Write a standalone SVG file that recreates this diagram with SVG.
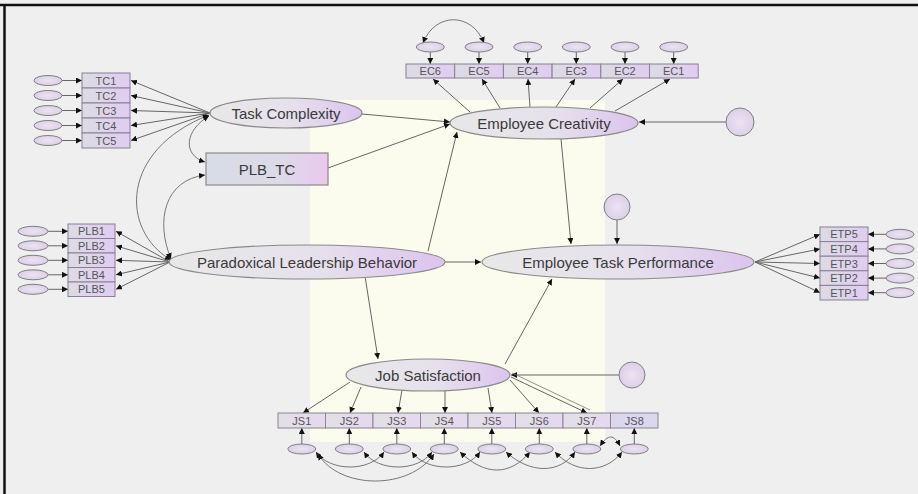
<svg xmlns="http://www.w3.org/2000/svg" width="918" height="494" viewBox="0 0 918 494">
<defs>
<linearGradient id="lat" x1="0" y1="0" x2="1" y2="0">
<stop offset="0" stop-color="#e8e8e8"/><stop offset="0.55" stop-color="#e6e0ec"/><stop offset="1" stop-color="#dcc4ee"/>
</linearGradient>
<linearGradient id="obs" x1="0" y1="0" x2="1" y2="0">
<stop offset="0" stop-color="#dcdce4"/><stop offset="1" stop-color="#e0ccf0"/>
</linearGradient>
<linearGradient id="jsf" x1="0" y1="0" x2="1" y2="0">
<stop offset="0" stop-color="#e2e0e6"/><stop offset="1" stop-color="#e6d8ee"/>
</linearGradient>
<linearGradient id="plbtc" x1="0" y1="0" x2="1" y2="0">
<stop offset="0" stop-color="#d8dce6"/><stop offset="0.6" stop-color="#dcdae8"/><stop offset="1" stop-color="#ecc8ec"/>
</linearGradient>
<radialGradient id="err" cx="0.5" cy="0.5" r="0.6">
<stop offset="0" stop-color="#ebe4f2"/><stop offset="1" stop-color="#dacbe8"/>
</radialGradient>
<marker id="ah" viewBox="0 0 10 10" refX="10" refY="5" markerWidth="6" markerHeight="6" markerUnits="userSpaceOnUse" orient="auto-start-reverse">
<path d="M0,0 L10,5 L0,10 z" fill="#111"/>
</marker>
</defs>
<style>
.lat{fill:url(#lat);stroke:#8a8a8a;stroke-width:1.2}
.obs{fill:url(#obs);stroke:#8a7f96;stroke-width:1}
.js{fill:url(#jsf);stroke:#8a8590;stroke-width:1}
.e{fill:url(#err);stroke:#808080;stroke-width:1}
.c{stroke:#666;stroke-width:1;fill:none;marker-end:url(#ah)}
.cv{stroke:#777;stroke-width:1;fill:none;marker-end:url(#ah);marker-start:url(#ah)}
.big{font-family:"Liberation Sans",Arial,sans-serif;font-size:15px;fill:#3a3a3a;text-anchor:middle;dominant-baseline:central}
.sm{font-family:"Liberation Sans",Arial,sans-serif;font-size:11px;fill:#555;text-anchor:middle;dominant-baseline:central}
</style>
<rect x="0" y="0" width="918" height="494" fill="#efefef"/>
<rect x="310" y="100" width="295" height="342" fill="#fbfbee"/>
<line x1="0" y1="5" x2="918" y2="5" stroke="#111" stroke-width="2.5"/>
<line x1="4.5" y1="5" x2="4.5" y2="494" stroke="#111" stroke-width="2.5"/>

<g id="connectors">
<line class="c" x1="62" y1="80.5" x2="82" y2="80.5"/>
<line class="c" x1="62" y1="95.5" x2="82" y2="95.5"/>
<line class="c" x1="62" y1="110.5" x2="82" y2="110.5"/>
<line class="c" x1="62" y1="125.5" x2="82" y2="125.5"/>
<line class="c" x1="62" y1="140.5" x2="82" y2="140.5"/>
<line class="c" x1="210" y1="113" x2="131" y2="80.5"/>
<line class="c" x1="210" y1="113" x2="131" y2="95.5"/>
<line class="c" x1="210" y1="113" x2="131" y2="110.5"/>
<line class="c" x1="210" y1="113" x2="131" y2="125.5"/>
<line class="c" x1="210" y1="113" x2="131" y2="140.5"/>
<line class="c" x1="48" y1="231.3" x2="68" y2="231.3"/>
<line class="c" x1="48" y1="245.8" x2="68" y2="245.8"/>
<line class="c" x1="48" y1="260.3" x2="68" y2="260.3"/>
<line class="c" x1="48" y1="274.8" x2="68" y2="274.8"/>
<line class="c" x1="48" y1="289.3" x2="68" y2="289.3"/>
<line class="c" x1="170" y1="262" x2="116" y2="231.3"/>
<line class="c" x1="170" y1="262" x2="116" y2="245.8"/>
<line class="c" x1="170" y1="262" x2="116" y2="260.3"/>
<line class="c" x1="170" y1="262" x2="116" y2="274.8"/>
<line class="c" x1="170" y1="262" x2="116" y2="289.3"/>
<path class="cv" d="M209,115 C120,150 120,230 171,260"/>
<path class="cv" d="M209,116 C185,130 182,155 205,162"/>
<path class="cv" d="M171,259 C155,220 165,180 205,175"/>
<line class="c" x1="430.3" y1="52" x2="430.3" y2="64"/>
<line class="c" x1="479" y1="52" x2="479" y2="64"/>
<line class="c" x1="527.7" y1="52" x2="527.7" y2="64"/>
<line class="c" x1="576.3" y1="52" x2="576.3" y2="64"/>
<line class="c" x1="625" y1="52" x2="625" y2="64"/>
<line class="c" x1="673.7" y1="52" x2="673.7" y2="64"/>
<path class="cv" d="M423,43 C435,12 472,12 484,43"/>
<line class="c" x1="470" y1="112" x2="433" y2="79"/>
<line class="c" x1="500" y1="108" x2="482" y2="79"/>
<line class="c" x1="530" y1="107" x2="528" y2="79"/>
<line class="c" x1="556" y1="107" x2="575" y2="79"/>
<line class="c" x1="590" y1="108" x2="623" y2="79"/>
<line class="c" x1="615" y1="111" x2="670" y2="79"/>
<line class="c" x1="886" y1="234.3" x2="868" y2="234.3"/>
<line class="c" x1="886" y1="248.9" x2="868" y2="248.9"/>
<line class="c" x1="886" y1="263.5" x2="868" y2="263.5"/>
<line class="c" x1="886" y1="278.1" x2="868" y2="278.1"/>
<line class="c" x1="886" y1="292.7" x2="868" y2="292.7"/>
<line class="c" x1="755" y1="262" x2="820" y2="234.3"/>
<line class="c" x1="755" y1="262" x2="820" y2="248.9"/>
<line class="c" x1="755" y1="262" x2="820" y2="263.5"/>
<line class="c" x1="755" y1="262" x2="820" y2="278.1"/>
<line class="c" x1="755" y1="262" x2="820" y2="292.7"/>
<line class="c" x1="362" y1="114" x2="450" y2="122"/>
<line class="c" x1="328" y1="168" x2="450" y2="124"/>
<line class="c" x1="428" y1="251" x2="457" y2="132"/>
<line class="c" x1="561" y1="139" x2="571" y2="244"/>
<line class="c" x1="726" y1="122" x2="639" y2="122"/>
<line class="c" x1="617" y1="220" x2="617" y2="244"/>
<line class="c" x1="445" y1="262" x2="481" y2="262"/>
<line class="c" x1="365" y1="276" x2="378" y2="359"/>
<line class="c" x1="505" y1="364" x2="552" y2="279"/>
<line class="c" x1="619" y1="375" x2="511" y2="375"/>
<line class="c" x1="350" y1="382" x2="303" y2="413"/>
<line class="c" x1="361" y1="387" x2="350" y2="413"/>
<line class="c" x1="402" y1="390" x2="398" y2="413"/>
<line class="c" x1="445" y1="390" x2="445" y2="413"/>
<line class="c" x1="488" y1="388" x2="492" y2="413"/>
<line class="c" x1="510" y1="380" x2="539" y2="413"/>
<line class="c" x1="511" y1="377" x2="587" y2="413" stroke-width="2"/>
<line x1="512" y1="373" x2="590" y2="410" stroke="#777" stroke-width="0.8"/>
<line class="c" x1="301.8" y1="444" x2="301.8" y2="428"/>
<line class="c" x1="349.3" y1="444" x2="349.3" y2="428"/>
<line class="c" x1="396.8" y1="444" x2="396.8" y2="428"/>
<line class="c" x1="444.3" y1="444" x2="444.3" y2="428"/>
<line class="c" x1="491.8" y1="444" x2="491.8" y2="428"/>
<line class="c" x1="539.3" y1="444" x2="539.3" y2="428"/>
<line class="c" x1="586.8" y1="444" x2="586.8" y2="428"/>
<line class="c" x1="634.3" y1="444" x2="634.3" y2="428"/>
<path class="cv" d="M316,452 C330,472 370,472 384,452"/>
<path class="cv" d="M364,452 C378,472 418,472 432,452"/>
<path class="cv" d="M412,452 C426,472 466,472 480,452"/>
<path class="cv" d="M318,454 C340,490 410,490 434,454"/>
<path class="cv" d="M460,452 C485,476 510,476 530,452"/>
<path class="cv" d="M506,452 C530,474 560,474 575,452"/>
<path class="cv" d="M555,452 C575,474 605,474 622,452"/>
<path class="cv" d="M600,446 C608,434 614,434 620,446"/>
</g>

<g id="TC1"><ellipse class="e" cx="48" cy="80.5" rx="14" ry="5"/><rect class="obs" x="82" y="73" width="48" height="15"/><text class="sm" x="106" y="80.5">TC1</text></g>
<g id="TC2"><ellipse class="e" cx="48" cy="95.5" rx="14" ry="5"/><rect class="obs" x="82" y="88" width="48" height="15"/><text class="sm" x="106" y="95.5">TC2</text></g>
<g id="TC3"><ellipse class="e" cx="48" cy="110.5" rx="14" ry="5"/><rect class="obs" x="82" y="103" width="48" height="15"/><text class="sm" x="106" y="110.5">TC3</text></g>
<g id="TC4"><ellipse class="e" cx="48" cy="125.5" rx="14" ry="5"/><rect class="obs" x="82" y="118" width="48" height="15"/><text class="sm" x="106" y="125.5">TC4</text></g>
<g id="TC5"><ellipse class="e" cx="48" cy="140.5" rx="14" ry="5"/><rect class="obs" x="82" y="133" width="48" height="15"/><text class="sm" x="106" y="140.5">TC5</text></g>

<g id="PLB1"><ellipse class="e" cx="33" cy="231.3" rx="15" ry="5"/><rect class="obs" x="68" y="224" width="47" height="14.5"/><text class="sm" x="91.5" y="231.3">PLB1</text></g>
<g id="PLB2"><ellipse class="e" cx="33" cy="245.8" rx="15" ry="5"/><rect class="obs" x="68" y="238.5" width="47" height="14.5"/><text class="sm" x="91.5" y="245.8">PLB2</text></g>
<g id="PLB3"><ellipse class="e" cx="33" cy="260.3" rx="15" ry="5"/><rect class="obs" x="68" y="253" width="47" height="14.5"/><text class="sm" x="91.5" y="260.3">PLB3</text></g>
<g id="PLB4"><ellipse class="e" cx="33" cy="274.8" rx="15" ry="5"/><rect class="obs" x="68" y="267.5" width="47" height="14.5"/><text class="sm" x="91.5" y="274.8">PLB4</text></g>
<g id="PLB5"><ellipse class="e" cx="33" cy="289.3" rx="15" ry="5"/><rect class="obs" x="68" y="282" width="47" height="14.5"/><text class="sm" x="91.5" y="289.3">PLB5</text></g>

<g id="EC6"><ellipse class="e" cx="430.3" cy="47" rx="14" ry="5"/><rect class="obs" x="406" y="64" width="48.7" height="14"/><text class="sm" x="430.3" y="71">EC6</text></g>
<g id="EC5"><ellipse class="e" cx="479" cy="47" rx="14" ry="5"/><rect class="obs" x="454.7" y="64" width="48.7" height="14"/><text class="sm" x="479" y="71">EC5</text></g>
<g id="EC4"><ellipse class="e" cx="527.7" cy="47" rx="14" ry="5"/><rect class="obs" x="503.4" y="64" width="48.7" height="14"/><text class="sm" x="527.7" y="71">EC4</text></g>
<g id="EC3"><ellipse class="e" cx="576.3" cy="47" rx="14" ry="5"/><rect class="obs" x="552.1" y="64" width="48.7" height="14"/><text class="sm" x="576.3" y="71">EC3</text></g>
<g id="EC2"><ellipse class="e" cx="625" cy="47" rx="14" ry="5"/><rect class="obs" x="600.8" y="64" width="48.7" height="14"/><text class="sm" x="625" y="71">EC2</text></g>
<g id="EC1"><ellipse class="e" cx="673.7" cy="47" rx="14" ry="5"/><rect class="obs" x="649.5" y="64" width="48.7" height="14"/><text class="sm" x="673.7" y="71">EC1</text></g>

<g id="ETP5"><rect class="obs" x="820" y="227" width="48" height="14.6"/><text class="sm" x="844" y="234.3">ETP5</text><ellipse class="e" cx="900" cy="234.3" rx="14" ry="5"/></g>
<g id="ETP4"><rect class="obs" x="820" y="241.6" width="48" height="14.6"/><text class="sm" x="844" y="248.9">ETP4</text><ellipse class="e" cx="900" cy="248.9" rx="14" ry="5"/></g>
<g id="ETP3"><rect class="obs" x="820" y="256.2" width="48" height="14.6"/><text class="sm" x="844" y="263.5">ETP3</text><ellipse class="e" cx="900" cy="263.5" rx="14" ry="5"/></g>
<g id="ETP2"><rect class="obs" x="820" y="270.8" width="48" height="14.6"/><text class="sm" x="844" y="278.1">ETP2</text><ellipse class="e" cx="900" cy="278.1" rx="14" ry="5"/></g>
<g id="ETP1"><rect class="obs" x="820" y="285.4" width="48" height="14.6"/><text class="sm" x="844" y="292.7">ETP1</text><ellipse class="e" cx="900" cy="292.7" rx="14" ry="5"/></g>

<g id="JS1"><rect class="js" x="278" y="413" width="47.5" height="15"/><text class="sm" x="301.8" y="420.5">JS1</text><ellipse class="e" cx="301.8" cy="449" rx="14" ry="5"/></g>
<g id="JS2"><rect class="js" x="325.5" y="413" width="47.5" height="15"/><text class="sm" x="349.3" y="420.5">JS2</text><ellipse class="e" cx="349.3" cy="449" rx="14" ry="5"/></g>
<g id="JS3"><rect class="js" x="373" y="413" width="47.5" height="15"/><text class="sm" x="396.8" y="420.5">JS3</text><ellipse class="e" cx="396.8" cy="449" rx="14" ry="5"/></g>
<g id="JS4"><rect class="js" x="420.5" y="413" width="47.5" height="15"/><text class="sm" x="444.3" y="420.5">JS4</text><ellipse class="e" cx="444.3" cy="449" rx="14" ry="5"/></g>
<g id="JS5"><rect class="js" x="468" y="413" width="47.5" height="15"/><text class="sm" x="491.8" y="420.5">JS5</text><ellipse class="e" cx="491.8" cy="449" rx="14" ry="5"/></g>
<g id="JS6"><rect class="js" x="515.5" y="413" width="47.5" height="15"/><text class="sm" x="539.3" y="420.5">JS6</text><ellipse class="e" cx="539.3" cy="449" rx="14" ry="5"/></g>
<g id="JS7"><rect class="js" x="563" y="413" width="47.5" height="15"/><text class="sm" x="586.8" y="420.5">JS7</text><ellipse class="e" cx="586.8" cy="449" rx="14" ry="5"/></g>
<g id="JS8"><rect class="js" x="610.5" y="413" width="47.5" height="15" style="fill:#dcd6ee"/><text class="sm" x="634.3" y="420.5">JS8</text><ellipse class="e" cx="634.3" cy="449" rx="14" ry="5"/></g>

<g id="TaskComplexity"><ellipse class="lat" cx="286" cy="113" rx="76" ry="15"/><text class="big" x="286" y="113">Task Complexity</text></g>
<g id="PLB_TC"><rect x="206" y="153" width="122" height="32" fill="url(#plbtc)" stroke="#8a8a8a" stroke-width="1.2"/><text class="big" x="267" y="169">PLB_TC</text></g>
<g id="EmployeeCreativity"><ellipse class="lat" cx="544" cy="123" rx="94" ry="16"/><text class="big" x="544" y="123">Employee Creativity</text></g>
<g id="eEC"><circle class="e" cx="740" cy="122" r="14"/></g>
<g id="ParadoxicalLeadershipBehavior"><ellipse class="lat" cx="307" cy="262" rx="138" ry="17"/><text class="big" x="307" y="262">Paradoxical Leadership Behavior</text></g>
<g id="EmployeeTaskPerformance"><ellipse class="lat" cx="618" cy="262" rx="136" ry="17"/><text class="big" x="618" y="262">Employee Task Performance</text></g>
<g id="eETP"><circle class="e" cx="617" cy="207" r="13"/></g>
<g id="JobSatisfaction"><ellipse class="lat" cx="428" cy="375" rx="82" ry="16"/><text class="big" x="428" y="375">Job Satisfaction</text></g>
<g id="eJS"><circle class="e" cx="632" cy="375" r="13"/></g>
</svg>
